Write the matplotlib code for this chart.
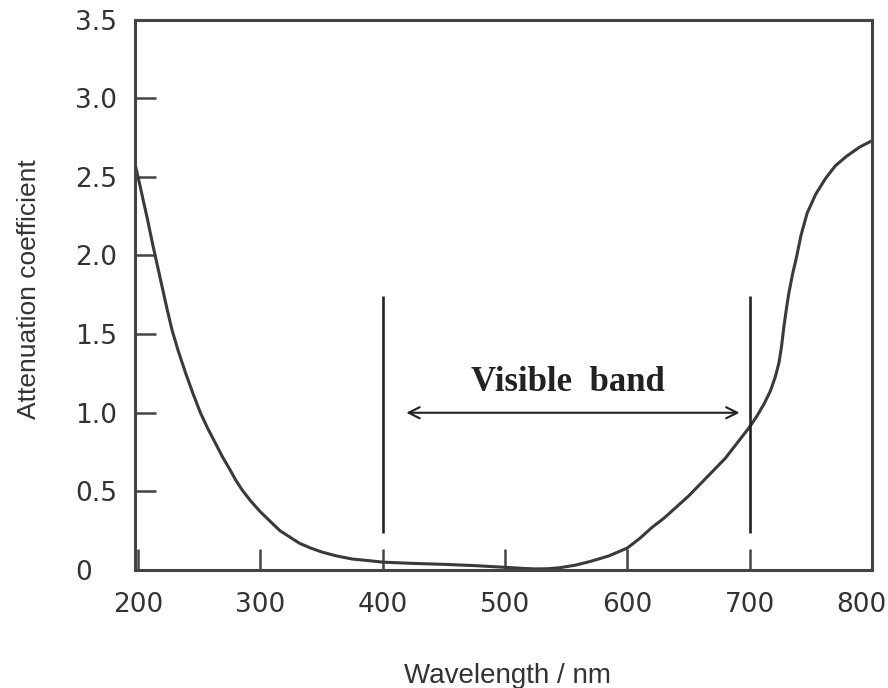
import matplotlib
matplotlib.use("Agg")
import matplotlib.pyplot as plt
import matplotlib.transforms as mtransforms

# attenuation curve
wavelength = [197, 200, 204, 208, 212, 216, 220, 224, 228, 233, 239, 245, 251, 257,
              263, 269, 275, 280, 285, 292, 300, 308, 316, 324, 332, 341, 350, 362,
              375, 388, 400, 425, 450, 475, 500, 515, 525, 535, 545, 557, 570, 585,
              600, 610, 620, 630, 640, 650, 660, 670, 680, 690, 700, 706, 712, 717,
              721, 724, 726, 728, 730, 732, 735, 738, 742, 747, 754, 762, 770, 779,
              790, 800]
attenuation = [2.60, 2.50, 2.36, 2.22, 2.07, 1.93, 1.79, 1.65, 1.52, 1.39, 1.25, 1.12,
               1.00, 0.90, 0.81, 0.72, 0.64, 0.57, 0.51, 0.44, 0.37, 0.31, 0.25, 0.21,
               0.17, 0.14, 0.115, 0.09, 0.07, 0.06, 0.05, 0.042, 0.036, 0.028, 0.017,
               0.010, 0.007, 0.008, 0.015, 0.030, 0.055, 0.09, 0.14, 0.20, 0.27, 0.33,
               0.40, 0.47, 0.55, 0.63, 0.71, 0.81, 0.91, 0.98, 1.06, 1.14, 1.23, 1.32,
               1.42, 1.55, 1.66, 1.76, 1.88, 1.98, 2.13, 2.27, 2.39, 2.49, 2.57, 2.63,
               2.69, 2.73]

band_edges = [400, 700]
band_line_y = (0.235, 1.745)
arrow_x = (417, 694)
arrow_y = 1.0
band_label = "Visible  band"

xticks = [200, 300, 400, 500, 600, 700, 800]
yticks = [0, 0.5, 1.0, 1.5, 2.0, 2.5, 3.0, 3.5]
ytick_labels = ["0", "0.5", "1.0", "1.5", "2.0", "2.5", "3.0", "3.5"]

spine_col = "#444444"

fig = plt.figure(figsize=(8.88, 6.88), dpi=100)
ax = fig.add_axes([0.152, 0.1715, 0.830, 0.80])

ax.plot(wavelength, attenuation, color="#3a3a3a", lw=2.2)
for xe in band_edges:
    ax.vlines(xe, band_line_y[0], band_line_y[1], color="#222222", lw=1.9)

ax.annotate("", xy=(arrow_x[0], arrow_y), xytext=(arrow_x[1], arrow_y),
            arrowprops=dict(arrowstyle="<->", color="#222222", lw=1.5,
                            mutation_scale=20))
ax.text(551, 1.19, band_label, ha="center", va="center", fontsize=25,
        fontweight="bold", family=["Liberation Serif", "DejaVu Serif"], color="#222222")

ax.set_xlim(197.5, 800)
ax.set_ylim(0, 3.5)
ax.set_xticks(xticks)
ax.set_yticks(yticks)
ax.set_yticklabels(ytick_labels)

ax.tick_params(axis="both", direction="in", length=15, width=1.8, color=spine_col)
ax.tick_params(axis="y", pad=43, labelsize=19)
ax.tick_params(axis="x", pad=16, labelsize=19)
for lab in ax.get_yticklabels():
    lab.set_horizontalalignment("left")
for lab in ax.get_xticklabels() + ax.get_yticklabels():
    lab.set_color("#333333")
# last x label sits a little left of its tick, as in the original
last = ax.get_xticklabels()[-1]
last.set_transform(last.get_transform()
                   + mtransforms.ScaledTranslation(-0.11, 0, fig.dpi_scale_trans))

for s in ax.spines.values():
    s.set_color(spine_col)
    s.set_linewidth(2.2)

ax.set_ylabel("Attenuation coefficient", fontsize=19, color="#333333",
              family=["Liberation Sans", "DejaVu Sans"])
ax.yaxis.set_label_coords(-0.128, 0.51)
fig.text(0.572, 0.018, "Wavelength / nm", ha="center", va="center",
         fontsize=20, color="#333333", family=["Liberation Sans", "DejaVu Sans"])

fig.savefig("out.png", dpi=100)
